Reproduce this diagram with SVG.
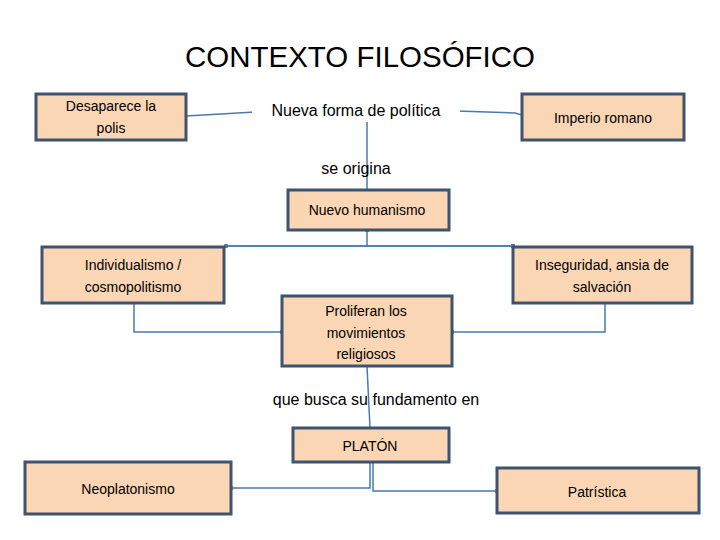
<svg xmlns="http://www.w3.org/2000/svg" width="720" height="540" viewBox="0 0 720 540">
<style>
.b{fill:#fad6b5;stroke:#3d5370;stroke-width:3}
.t{font-family:"Liberation Sans",Arial,sans-serif;font-size:14px;fill:#000;text-anchor:middle}
.l{font-family:"Liberation Sans",Arial,sans-serif;font-size:16px;fill:#000;text-anchor:middle}
.c{fill:none;stroke:#4a7aad;stroke-width:1.5}
</style>
<defs><marker id="d" viewBox="0 0 6 6" refX="3" refY="3" markerWidth="3" markerHeight="3"><circle cx="3" cy="3" r="3" fill="#4a7aad"/></marker></defs>
<rect width="720" height="540" fill="#fff"/>
<text x="360" y="67" font-family="Liberation Sans,Arial,sans-serif" font-size="30" text-anchor="middle" textLength="350" lengthAdjust="spacingAndGlyphs">CONTEXTO FILOSÓFICO</text>
<g id="connectors">
<path class="c" d="M186 116 L255 112 M456 111 L515 113 L522 115"/>
<path class="c" d="M367 115 V190"/>
<path class="c" d="M367 230 V246 M226 246 H513" marker-start="url(#d)" marker-end="url(#d)"/>
<path class="c" d="M226 246 H513" marker-start="url(#d)" marker-end="url(#d)"/>
<path class="c" d="M134 303 V332 H282" marker-end="url(#d)"/>
<path class="c" d="M605 303 V332 H452" marker-end="url(#d)"/>
<path class="c" d="M367 366 L370 428"/>
<path class="c" d="M370 462 V488 H231" marker-end="url(#d)"/>
<path class="c" d="M373 462 V491 H497" marker-end="url(#d)"/>
</g>
<g id="label1"><rect x="252" y="96" width="208" height="26" fill="#fff"/><text class="l" x="356" y="116">Nueva forma de política</text></g>
<g id="label2"><text class="l" x="356" y="174">se origina</text></g>
<g id="label3"><text class="l" x="376" y="405">que busca su fundamento en</text></g>
<g id="n1"><rect class="b" x="36" y="94" width="150" height="46"/><text class="t" x="111" y="111">Desaparece la</text><text class="t" x="111" y="133">polis</text></g>
<g id="n2"><rect class="b" x="522" y="94" width="162" height="46"/><text class="t" x="603" y="123">Imperio romano</text></g>
<g id="n3"><rect class="b" x="288" y="190" width="161" height="40"/><text class="t" x="367" y="215">Nuevo humanismo</text></g>
<g id="n4"><rect class="b" x="42" y="247" width="182" height="56"/><text class="t" x="133" y="270">Individualismo /</text><text class="t" x="133" y="292">cosmopolitismo</text></g>
<g id="n5"><rect class="b" x="513" y="247" width="179" height="56"/><text class="t" x="602" y="270">Inseguridad, ansia de</text><text class="t" x="602" y="292">salvación</text></g>
<g id="n6"><rect class="b" x="282" y="296" width="170" height="70"/><text class="t" x="366" y="316">Proliferan los</text><text class="t" x="366" y="338">movimientos</text><text class="t" x="366" y="359">religiosos</text></g>
<g id="n7"><rect class="b" x="293" y="428" width="156" height="34"/><text class="t" x="370" y="451">PLATÓN</text></g>
<g id="n8"><rect class="b" x="25" y="462" width="206" height="52"/><text class="t" x="128" y="494">Neoplatonismo</text></g>
<g id="n9"><rect class="b" x="497" y="468" width="202" height="45"/><text class="t" x="597" y="497">Patrística</text></g>
</svg>
